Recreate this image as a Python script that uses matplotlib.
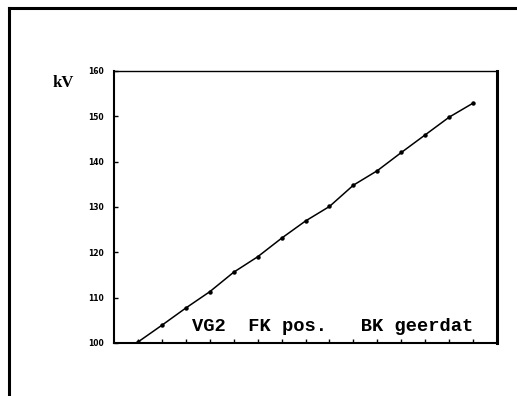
import numpy as np
from matplotlib import pyplot as plt
from matplotlib.lines import Line2D

# meetwaarden
x = [1, 2, 3, 4, 5, 6, 7, 8, 9, 10, 11, 12, 13, 14, 15]
kv = [100.2, 103.9, 107.7, 111.3, 115.6, 119.0, 123.1, 126.9, 130.1,
      134.8, 138.0, 142.0, 145.9, 149.8, 152.9]
yticks = [100, 110, 120, 130, 140, 150, 160]
xticks = list(range(1, 16))

fig = plt.figure(figsize=(5.17, 3.96), dpi=100)
ax = fig.add_axes([0.2205, 0.134, 0.741, 0.687])

ax.plot(x, kv, color='black', lw=1.1, marker='o', ms=2.2)
ax.set_xlim(0, 16)
ax.set_ylim(100, 160)
ax.set_yticks(yticks)
ax.set_yticklabels([str(v) for v in yticks], fontsize=5.5, fontweight='bold')
ax.set_xticks(xticks)
ax.set_xticklabels([])
ax.tick_params(direction='in', length=3, width=1, pad=7)

for s in ['left', 'bottom']:
    ax.spines[s].set_linewidth(1.5)
ax.spines['top'].set_linewidth(1.0)
ax.spines['right'].set_linewidth(2.2)

ax.text(0.204, 0.03, 'VG2  FK pos.   BK geerdat', transform=ax.transAxes,
        family='Liberation Mono', fontweight='bold', fontsize=13.5,
        ha='left', va='bottom')
fig.text(53 / 517, 1 - 83 / 396, 'kV', family='Liberation Serif',
         fontweight='bold', fontsize=12, ha='left', va='center')

# kader
fig.add_artist(Line2D([9 / 517, 9 / 517], [0, 1 - 8 / 396], color='black', lw=2.2,
                      transform=fig.transFigure))
fig.add_artist(Line2D([9 / 517, 1], [1 - 8 / 396, 1 - 8 / 396], color='black', lw=2.2,
                      transform=fig.transFigure))

fig.savefig('out.png', dpi=100)
